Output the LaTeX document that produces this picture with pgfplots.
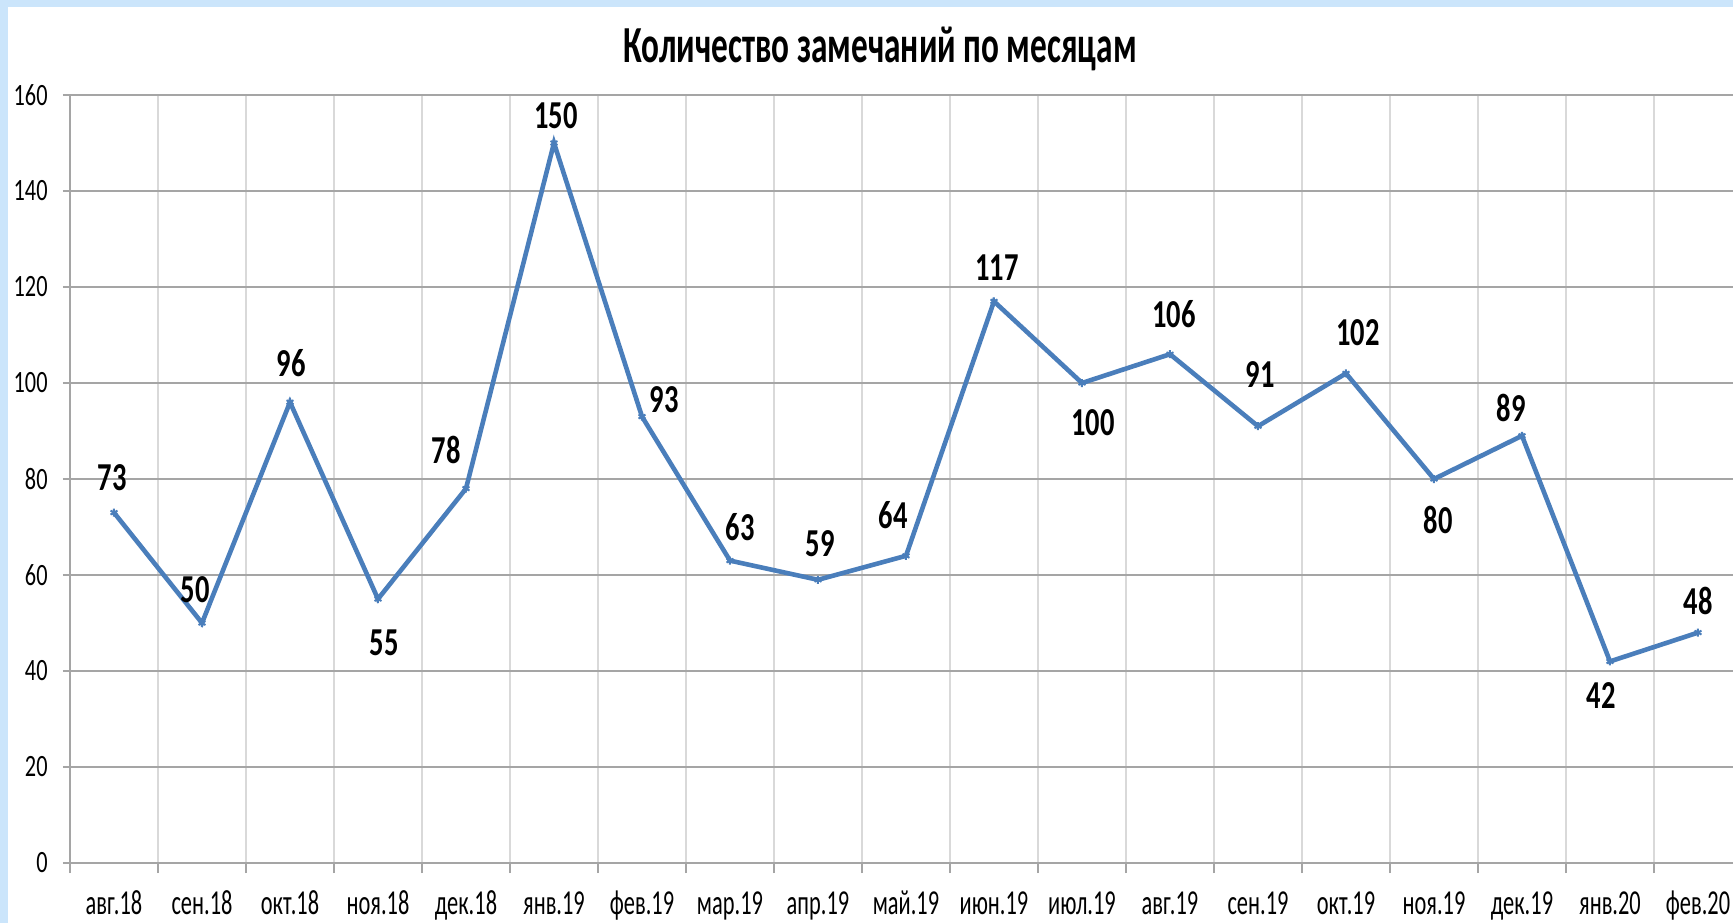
\documentclass[border=0pt]{standalone}
\usepackage{fontspec}
\setmainfont{Carlito}[FakeStretch=0.72]
\newfontfamily\titlefont{Carlito}[FakeStretch=0.64]
\newfontfamily\xfont{Carlito}[FakeStretch=0.64]
\usepackage{pgfplots}
\pgfplotsset{compat=1.18}
\usepackage{pgfplotstable}
\definecolor{linecol}{RGB}{74,126,187}
\definecolor{hgrid}{RGB}{165,165,165}
\definecolor{vgrid}{RGB}{217,217,217}
\definecolor{frameblue}{RGB}{203,229,251}
\pgfplotstableread{
x y dx dy
0 73 -1 17.5
1 50 -3.5 16.5
2 96 0.5 19.5
3 55 3 -22
4 78 -10 19.5
5 150 1 13.5
6 93 11 8.5
7 63 5 16.5
8 59 1 18
9 64 -6.5 20.5
10 117 1.5 17
11 100 5.5 -20
12 106 2 20
13 91 1 26
14 102 6 20.5
15 80 2 -20.5
16 89 -5.5 14
17 42 -4.5 -17
18 48 0 16
}\datatable
\begin{document}
\begin{tikzpicture}
\begin{scope}[x=0.5pt,y=0.5pt]
\fill[frameblue] (-70,-60) rectangle (1663,863);
\fill[white] (-62,-60) rectangle (1663,856);
\end{scope}
\begin{axis}[
  scale only axis,
  width=831.5pt, height=384pt,
  xmin=-0.5, xmax=18.398,
  ymin=0, ymax=160,
  ytick={0,20,...,160},
  xtick={0,...,18},
  xticklabels={авг.18,сен.18,окт.18,ноя.18,дек.18,янв.19,фев.19,мар.19,апр.19,май.19,июн.19,июл.19,авг.19,сен.19,окт.19,ноя.19,дек.19,янв.20,фев.20},
  minor xtick={-0.5,0.5,...,17.5},
  axis x line*=bottom, axis y line*=left,
  axis line style={hgrid, line width=0.9pt},
  ymajorgrids, xminorgrids,
  major grid style={hgrid, line width=0.9pt},
  minor grid style={vgrid, line width=0.8pt},
  tick align=outside,
  major tick style={hgrid, line width=0.9pt},
  minor tick style={hgrid, line width=0.9pt},
  major tick length=3.5pt,
  minor tick length=5pt,
  every major x tick/.style={draw=none},
  /pgf/number format/assume math mode=true,
  yticklabel style={font=\fontsize{15.5}{18}\selectfont, anchor=east, inner sep=0pt, xshift=-7.5pt},
  xticklabel style={font=\xfont\fontsize{17.5}{21}\selectfont, anchor=base, inner sep=0pt, yshift=-22pt},
  clip=false,
]
\addplot[color=linecol, line width=2.3pt, mark=asterisk, mark size=2pt,
  mark options={line width=1pt},
  visualization depends on={\thisrow{dx}\as\dx},
  visualization depends on={\thisrow{dy}\as\dy},
  nodes near coords,
  every node near coord/.append style={anchor=center, xshift=\dx pt, yshift=\dy pt,
     font=\bfseries\fontsize{19.8}{22}\selectfont, text=black, inner sep=0pt},
] table[x=x,y=y] {\datatable};
\end{axis}
\node[font=\titlefont\bfseries\fontsize{26}{30}\selectfont, anchor=base] at (405pt, 400pt) {Количество замечаний по месяцам};
\pgfresetboundingbox
\path[use as bounding box] (-35pt,-30pt) rectangle (831.5pt,431.5pt);
\end{tikzpicture}
\end{document}
